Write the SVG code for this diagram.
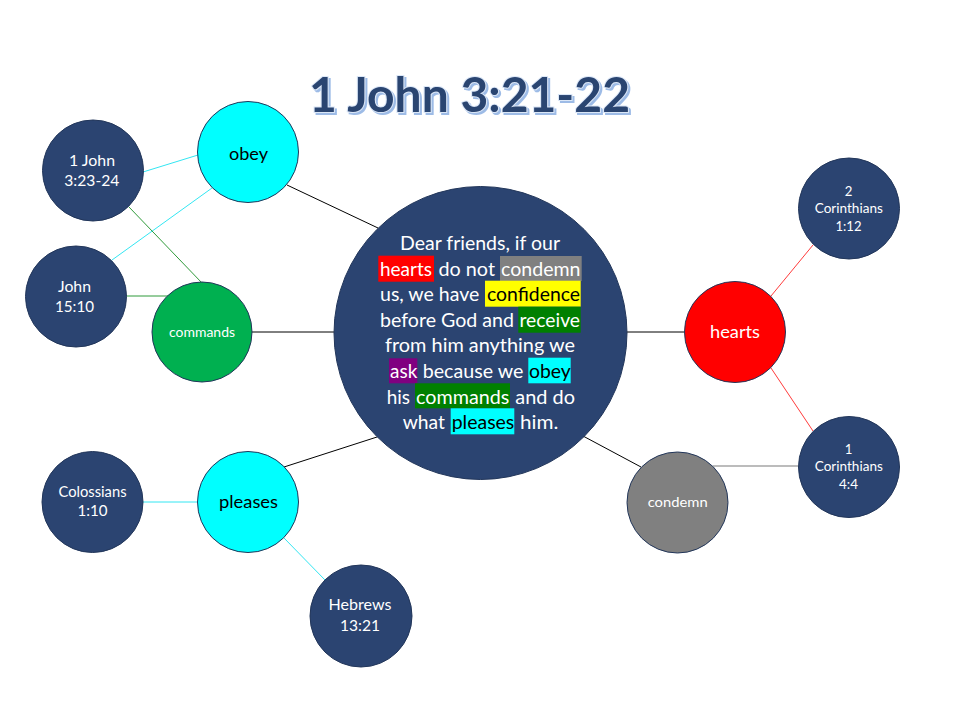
<svg xmlns="http://www.w3.org/2000/svg" width="960" height="720" viewBox="0 0 960 720">
<style>
text{font-family:Lato,"Open Sans","Liberation Sans",sans-serif;}
.nav{fill:#2b4471;stroke:#22365a;stroke-width:1;}
.cy{fill:#00ffff;stroke:#22365a;stroke-width:1;}
.c{text-anchor:middle;}
.ct{font-size:18.5px;fill:#ffffff;}
.ctk{font-size:18.5px;fill:#000000;}
.w{fill:#ffffff;}
.k{fill:#000000;}
.ref{font-size:16px;fill:#ffffff;text-anchor:middle;}
.ref2{font-size:13.2px;fill:#ffffff;text-anchor:middle;}
.kl{stroke:#000;stroke-width:1;}
.cl{stroke:#33e6f2;stroke-width:1;}
.gl{stroke:#2f9a3a;stroke-width:1;}
.rl{stroke:#ff3b3b;stroke-width:1;}
.al{stroke:#a6a6a6;stroke-width:1.5;}
</style>
<defs>
<filter id="sh" x="-5%" y="-20%" width="110%" height="140%">
<feDropShadow dx="2" dy="2" stdDeviation="0.6" flood-color="#9dbbe6" flood-opacity="1"/>
</filter>
</defs>
<rect width="960" height="720" fill="#ffffff"/>
<g id="title">
<text x="309" y="112" font-size="47" font-weight="700" textLength="321" lengthAdjust="spacingAndGlyphs" fill="#2b4471" stroke="#dbe7f7" stroke-width="2" paint-order="stroke" filter="url(#sh)">1 John 3:21-22</text>
</g>
<g id="connectors">
<line class="kl" x1="287" y1="185" x2="378" y2="228"/>
<line class="kl" x1="252" y1="332" x2="334" y2="332"/>
<line class="kl" x1="284" y1="467" x2="377" y2="437"/>
<line class="kl" x1="627" y1="332" x2="684" y2="332"/>
<line class="kl" x1="583" y1="436" x2="641" y2="467"/>
<line class="cl" x1="143" y1="172" x2="198" y2="155"/>
<line class="cl" x1="112" y1="260" x2="212" y2="188"/>
<line class="gl" x1="129" y1="207" x2="202" y2="283"/>
<line class="gl" x1="126" y1="296" x2="168" y2="296"/>
<line class="rl" x1="771" y1="296" x2="813" y2="245"/>
<line class="rl" x1="771" y1="368" x2="813" y2="431"/>
<line class="al" x1="713" y1="466" x2="798" y2="466"/>
<line class="cl" x1="143" y1="502" x2="197" y2="502"/>
<line class="cl" x1="284" y1="538" x2="325" y2="580"/>
</g>
<g id="center">
<circle class="nav" cx="480.5" cy="333" r="146.5"/>
<rect x="378.3" y="255.7" width="55.7" height="26" fill="#ff0000"/>
<rect x="500" y="256" width="81.7" height="25" fill="#808080"/>
<rect x="485" y="280.7" width="95.7" height="26" fill="#ffff00"/>
<rect x="518.3" y="306.7" width="62.4" height="26" fill="#008000"/>
<rect x="389" y="358.3" width="28.3" height="25" fill="#800080"/>
<rect x="528.3" y="357.7" width="42.4" height="25.6" fill="#00ffff"/>
<rect x="415" y="383.3" width="95" height="25" fill="#008000"/>
<rect x="450.7" y="408.3" width="63.6" height="26" fill="#00ffff"/>
<text class="ct" x="400" y="250" textLength="160" lengthAdjust="spacingAndGlyphs">Dear friends, if our</text>
<text class="ct" x="380" y="275.6" textLength="52" lengthAdjust="spacingAndGlyphs">hearts</text>
<text class="ct" x="438.5" y="275.6" textLength="56.5" lengthAdjust="spacingAndGlyphs">do not</text>
<text class="ct" x="501" y="275.6" textLength="79.5" lengthAdjust="spacingAndGlyphs">condemn</text>
<text class="ct" x="380" y="301.2" textLength="99.3" lengthAdjust="spacingAndGlyphs">us, we have</text>
<text class="ctk" x="487" y="301.2" textLength="93" lengthAdjust="spacingAndGlyphs">confidence</text>
<text class="ct" x="380" y="326.8" textLength="134" lengthAdjust="spacingAndGlyphs">before God and</text>
<text class="ct" x="519.5" y="326.8" textLength="60.5" lengthAdjust="spacingAndGlyphs">receive</text>
<text class="ct" x="385" y="352.4" textLength="190" lengthAdjust="spacingAndGlyphs">from him anything we</text>
<text class="ct" x="390" y="378" textLength="27.3" lengthAdjust="spacingAndGlyphs">ask</text>
<text class="ct" x="422.7" y="378" textLength="100.6" lengthAdjust="spacingAndGlyphs">because we</text>
<text class="ctk" x="529" y="378" textLength="41.7" lengthAdjust="spacingAndGlyphs">obey</text>
<text class="ct" x="386.7" y="403.6" textLength="23.3" lengthAdjust="spacingAndGlyphs">his</text>
<text class="ct" x="416" y="403.6" textLength="93.3" lengthAdjust="spacingAndGlyphs">commands</text>
<text class="ct" x="515.3" y="403.6" textLength="59.7" lengthAdjust="spacingAndGlyphs">and do</text>
<text class="ct" x="402.7" y="429.2" textLength="42.3" lengthAdjust="spacingAndGlyphs">what</text>
<text class="ctk" x="451.7" y="429.2" textLength="62.6" lengthAdjust="spacingAndGlyphs">pleases</text>
<text class="ct" x="520" y="429.2" textLength="38.3" lengthAdjust="spacingAndGlyphs">him.</text>
</g>
<g id="obey">
<circle class="cy" cx="248" cy="152" r="50.5"/>
<text class="c k" x="248.5" y="160" font-size="17.5" textLength="39" lengthAdjust="spacingAndGlyphs">obey</text>
</g>
<g id="commands">
<circle fill="#00b050" stroke="#22365a" stroke-width="1" cx="202" cy="332" r="50"/>
<text class="c w" x="202" y="336.7" font-size="13.3" textLength="66" lengthAdjust="spacingAndGlyphs">commands</text>
</g>
<g id="pleases">
<circle class="cy" cx="248" cy="502" r="50.5"/>
<text class="c k" x="248.5" y="508.3" font-size="17.5" textLength="59" lengthAdjust="spacingAndGlyphs">pleases</text>
</g>
<g id="hearts">
<circle fill="#ff0000" stroke="#22365a" stroke-width="1" cx="735" cy="332" r="50.5"/>
<text class="c w" x="735" y="338.3" font-size="17.5" textLength="50" lengthAdjust="spacingAndGlyphs">hearts</text>
</g>
<g id="condemn">
<circle fill="#808080" stroke="#22365a" stroke-width="1" cx="677.5" cy="502.5" r="50.5"/>
<text class="c w" x="677.7" y="506.7" font-size="14.1" textLength="60" lengthAdjust="spacingAndGlyphs">condemn</text>
</g>
<g id="ref-1john">
<circle class="nav" cx="93" cy="170.5" r="50.5"/>
<text class="ref" x="92" y="165.7" textLength="46" lengthAdjust="spacingAndGlyphs">1 John</text>
<text class="ref" x="91.8" y="186" textLength="55" lengthAdjust="spacingAndGlyphs">3:23-24</text>
</g>
<g id="ref-john1510">
<circle class="nav" cx="76" cy="296.5" r="50.5"/>
<text class="ref" x="74.5" y="291.7" textLength="33" lengthAdjust="spacingAndGlyphs">John</text>
<text class="ref" x="74.5" y="312.3" textLength="39" lengthAdjust="spacingAndGlyphs">15:10</text>
</g>
<g id="ref-2cor">
<circle class="nav" cx="849" cy="208.5" r="50.5"/>
<text class="ref2" x="848.5" y="196">2</text>
<text class="ref2" x="848.8" y="213.3" textLength="68" lengthAdjust="spacingAndGlyphs">Corinthians</text>
<text class="ref2" x="848.5" y="231" textLength="26" lengthAdjust="spacingAndGlyphs">1:12</text>
</g>
<g id="ref-1cor">
<circle class="nav" cx="849" cy="467" r="50.5"/>
<text class="ref2" x="848.5" y="454">1</text>
<text class="ref2" x="848.8" y="471" textLength="68" lengthAdjust="spacingAndGlyphs">Corinthians</text>
<text class="ref2" x="848.5" y="489" textLength="19" lengthAdjust="spacingAndGlyphs">4:4</text>
</g>
<g id="ref-col">
<circle class="nav" cx="92.5" cy="502" r="50.5"/>
<text class="ref" x="92.5" y="497.3" textLength="68" lengthAdjust="spacingAndGlyphs">Colossians</text>
<text class="ref" x="92.5" y="516" textLength="30" lengthAdjust="spacingAndGlyphs">1:10</text>
</g>
<g id="ref-heb">
<circle class="nav" cx="361" cy="616" r="51"/>
<text class="ref" x="360" y="610" textLength="63" lengthAdjust="spacingAndGlyphs">Hebrews</text>
<text class="ref" x="360" y="630.7" textLength="40" lengthAdjust="spacingAndGlyphs">13:21</text>
</g>
</svg>
